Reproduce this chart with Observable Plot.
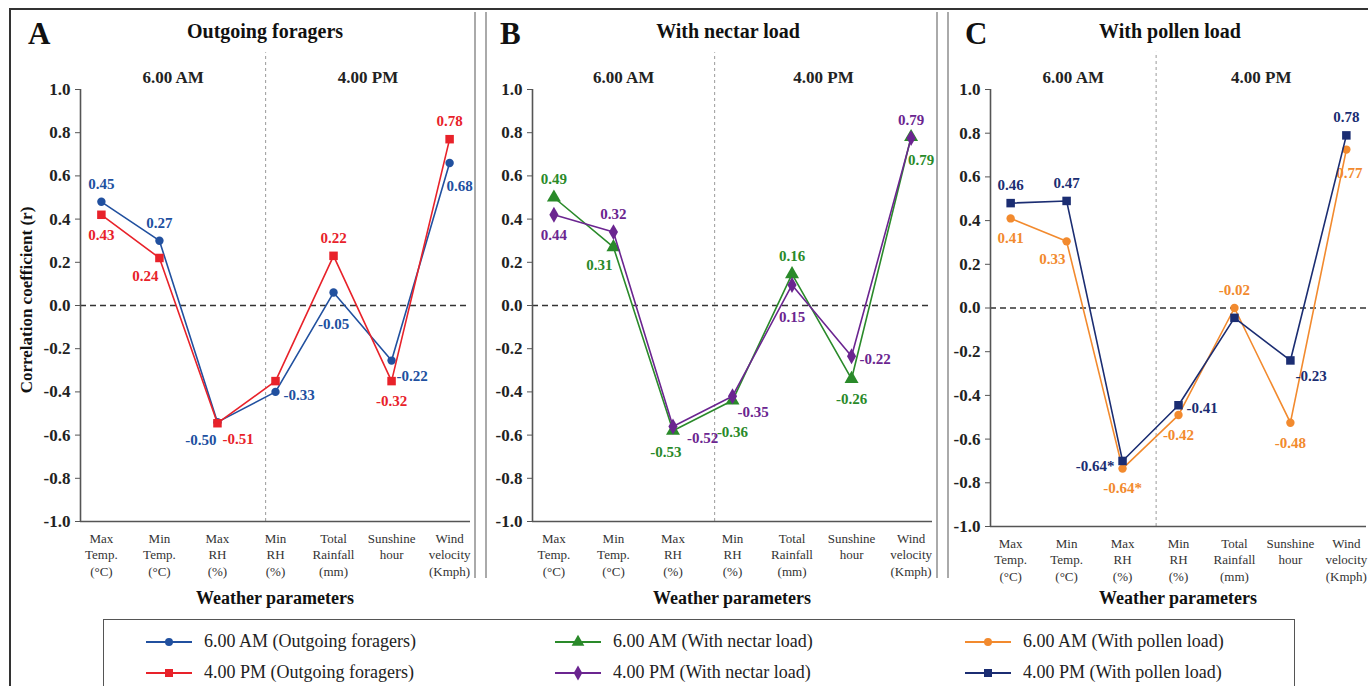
<!DOCTYPE html>
<html>
<head>
<meta charset="utf-8">
<script src="https://cdn.jsdelivr.net/npm/d3@7"></script>
<script src="https://cdn.jsdelivr.net/npm/@observablehq/plot@0.6"></script>
<style>
  html, body { margin: 0; padding: 0; background: #fff; }
  #root { position: relative; width: 1368px; height: 686px; overflow: hidden; background: #fff;
          font-family: "Liberation Serif", "DejaVu Serif", serif; color: #222; }
  .abs { position: absolute; white-space: nowrap; }
  .panel svg { overflow: visible; }
  .panel g[aria-label="y-axis tick label"] text { font-weight: bold; font-size: 17px; fill: #222; }
</style>
</head>
<body>
<div id="root"></div>
<script>
// ---------- data ----------
const categories = ["Max\nTemp.\n(°C)", "Min\nTemp.\n(°C)", "Max\nRH\n(%)", "Min\nRH\n(%)",
                    "Total\nRainfall\n(mm)", "Sunshine\nhour", "Wind\nvelocity\n(Kmph)"];
const yTicks = [1.0, 0.8, 0.6, 0.4, 0.2, 0, -0.2, -0.4, -0.6, -0.8, -1.0];
const panelLetters = ["A", "B", "C"];
const panelTitles = ["Outgoing foragers", "With nectar load", "With pollen load"];
const sessions = ["6.00 AM", "4.00 PM"];
const xTitle = "Weather parameters";
const yTitle = "Correlation coefficient (r)";

// Panel A – outgoing foragers
const outgoingAM = [0.48, 0.30, -0.54, -0.40, 0.06, -0.255, 0.66];
const outgoingAMLabels = ["0.45", "0.27", "-0.50", "-0.33", "-0.05", "-0.22", "0.68"];
const outgoingPM = [0.42, 0.22, -0.545, -0.35, 0.23, -0.35, 0.77];
const outgoingPMLabels = ["0.43", "0.24", "-0.51", null, "0.22", "-0.32", "0.78"];
// Panel B – with nectar load
const nectarAM = [0.50, 0.27, -0.58, -0.44, 0.145, -0.34, 0.78];
const nectarAMLabels = ["0.49", "0.31", "-0.53", "-0.36", "0.16", "-0.26", "0.79"];
const nectarPM = [0.42, 0.34, -0.56, -0.42, 0.095, -0.235, 0.775];
const nectarPMLabels = ["0.44", "0.32", "-0.52", "-0.35", "0.15", "-0.22", "0.79"];
// Panel C – with pollen load
const pollenAM = [0.41, 0.305, -0.735, -0.49, 0.0, -0.525, 0.725];
const pollenAMLabels = ["0.41", "0.33", "-0.64*", "-0.42", "-0.02", "-0.48", "0.77"];
const pollenPM = [0.48, 0.49, -0.70, -0.445, -0.045, -0.24, 0.79];
const pollenPMLabels = ["0.46", "0.47", "-0.64*", "-0.41", null, "-0.23", "0.78"];

const seriesNames = ["6.00 AM (Outgoing foragers)", "4.00 PM (Outgoing foragers)",
                     "6.00 AM (With nectar load)", "4.00 PM (With nectar load)",
                     "6.00 AM (With pollen load)", "4.00 PM (With pollen load)"];

// ---------- styling / layout (not data) ----------
const labelPlaceA_AM = ["t", "t", "bl", "r", "bb", "br", "bR"];
const labelPlaceA_PM = ["b", "bl", "br", null, "t", "b", "t"];
const labelPlaceB_AM = ["t", "bl", "bm", "bb", "t", "b", "bR"];
const labelPlaceB_PM = ["b", "t", "rb", "br", "bb", "r", "t"];
const labelPlaceC_AM = ["b", "bl", "b", "b", "t", "b", "bE"];
const labelPlaceC_PM = ["t", "t", "l", "r", null, "br", "t"];

const placeStyle = {
  t:  {dx: 0,  dy: -18, textAnchor: "middle"},
  b:  {dx: 0,  dy: 20,  textAnchor: "middle"},
  bm: {dx: -7, dy: 21,  textAnchor: "middle"},
  bb: {dx: 0,  dy: 32,  textAnchor: "middle"},
  r:  {dx: 8,  dy: 3,   textAnchor: "start"},
  rb: {dx: 14, dy: 12,  textAnchor: "start"},
  l:  {dx: -8, dy: 5,   textAnchor: "end"},
  br: {dx: 5,  dy: 16,  textAnchor: "start"},
  bR: {dx: -3, dy: 23,  textAnchor: "start"},
  bE: {dx: -10, dy: 24, textAnchor: "start"},
  bl: {dx: -1, dy: 18,  textAnchor: "end"}
};

const colors = {
  blue: "#21509f", red: "#e8222a", green: "#2a8a2a",
  purple: "#6b2590", orange: "#f28a2e", navy: "#1b2d72"
};

const panels = [
  {left: 12, width: 463, mL: 68, mR: 5, mB: 57, divider: 2.83,
   series: [
     {values: outgoingAM, labels: outgoingAMLabels, place: labelPlaceA_AM, color: colors.blue, symbol: "circle", r: 4.2},
     {values: outgoingPM, labels: outgoingPMLabels, place: labelPlaceA_PM, color: colors.red, symbol: "square", r: 4.8}
   ]},
  {left: 487, width: 450, mL: 45, mR: 5, mB: 57, divider: 2.7,
   series: [
     {values: nectarAM, labels: nectarAMLabels, place: labelPlaceB_AM, color: colors.green, symbol: "triangle", r: 5.2},
     {values: nectarPM, labels: nectarPMLabels, place: labelPlaceB_PM, color: colors.purple, symbol: "diamond", r: 4.8}
   ]},
  {left: 950, width: 418, mL: 40, mR: 2, mB: 52, divider: 2.6,
   series: [
     {values: pollenAM, labels: pollenAMLabels, place: labelPlaceC_AM, color: colors.orange, symbol: "circle", r: 4.2},
     {values: pollenPM, labels: pollenPMLabels, place: labelPlaceC_PM, color: colors.navy, symbol: "square", r: 4.8}
   ]}
];

const root = document.getElementById("root");
function addDiv(html, style, cls = "abs") {
  const d = document.createElement("div");
  d.className = cls;
  d.innerHTML = html;
  Object.assign(d.style, style);
  root.appendChild(d);
  return d;
}

// outer frame (top + left dark lines)
addDiv("", {left: "9px", top: "8px", width: "1370px", height: "2px", background: "#333"});
addDiv("", {left: "9px", top: "8px", width: "2px", height: "690px", background: "#333"});
// panel separators
[[474, 12, 566], [485, 12, 566], [936, 12, 566], [947, 12, 566]].forEach(([x, y, h]) =>
  addDiv("", {left: x + "px", top: y + "px", width: "2px", height: h + "px", background: "#aaa"}));

const pad = 0.36;
const xmin = -pad, xmax = categories.length - 1 + pad;
const topY = 12, svgH = 566, mT = 77;

panels.forEach((p, k) => {
  const idx = categories.map((c, i) => ({i, c}));
  const marks = [
    Plot.ruleY([0], {stroke: "#333", strokeWidth: 1.3, strokeDasharray: "6,4"}),
    Plot.ruleX([p.divider], {y1: -1, y2: 1.17, stroke: "#9a9a9a", strokeWidth: 1, strokeDasharray: "3,3"}),
    Plot.ruleY([-1], {stroke: "#555", strokeWidth: 1.6}),
    Plot.ruleX([xmin], {y1: -1, y2: 1, stroke: "#555", strokeWidth: 1.6}),
    Plot.axisY({ticks: yTicks, tickFormat: d => d.toFixed(1), tickSize: 5, tickPadding: 5,
                label: null, stroke: "#555", fontSize: 17, fontWeight: "bold"}),
    Plot.text(idx, {x: "i", text: "c", frameAnchor: "bottom", lineAnchor: "top", dy: 9,
                    lineHeight: 1.3, fontSize: 13, fill: "#333"}),
    Plot.text(
      [{x: (xmin + p.divider) / 2, t: sessions[0], y: 1.055}, {x: (p.divider + xmax) / 2, t: sessions[1], y: 1.055}],
      {x: "x", y: "y", text: "t", fontSize: 17, fontWeight: "bold", fill: "#222"})
  ];
  p.series.forEach(s => {
    const rows = s.values.map((v, i) => ({i, v, lab: s.labels[i], place: s.place[i]}));
    marks.push(Plot.line(rows, {x: "i", y: "v", stroke: s.color, strokeWidth: 1.6}));
    marks.push(Plot.dot(rows, {x: "i", y: "v", fill: s.color, stroke: "none", symbol: s.symbol, r: s.r}));
    Object.entries(placeStyle).forEach(([code, st]) => {
      const sub = rows.filter(r => r.place === code && r.lab);
      if (sub.length) marks.push(Plot.text(sub, {x: "i", y: "v", text: "lab", fill: s.color,
        fontSize: 15, fontWeight: "bold", dx: st.dx, dy: st.dy, textAnchor: st.textAnchor}));
    });
  });

  const chart = Plot.plot({
    width: p.width, height: svgH,
    marginLeft: p.mL, marginRight: p.mR, marginTop: mT, marginBottom: p.mB,
    x: {domain: [xmin, xmax], axis: null},
    y: {domain: [-1, 1]},
    style: {fontFamily: "'Liberation Serif', 'DejaVu Serif', serif", background: "transparent", overflow: "visible"},
    marks
  });
  const wrap = document.createElement("div");
  wrap.className = "abs panel";
  Object.assign(wrap.style, {left: p.left + "px", top: topY + "px"});
  wrap.appendChild(chart);
  root.appendChild(wrap);

  // titles
  const plotLeft = p.left + p.mL, plotRight = p.left + p.width - p.mR;
  const letterX = [28, 500, 965][k];
  addDiv(panelLetters[k], {left: letterX + "px", top: "16px", fontSize: "31px", fontWeight: "bold", color: "#111"});
  const centerTitle = [265, 728, 1170][k];
  addDiv(panelTitles[k], {left: centerTitle + "px", top: "20px", transform: "translateX(-50%)",
                          fontSize: "20px", fontWeight: "bold", color: "#111"});
  addDiv(xTitle, {left: (plotLeft + plotRight) / 2 + "px", top: "588px", transform: "translateX(-50%)",
                  fontSize: "18px", fontWeight: "bold", color: "#111"});
});

// y title (panel A only)
addDiv(yTitle, {left: "27px", top: "300px", transform: "translate(-50%,-50%) rotate(-90deg)",
                fontSize: "17px", fontWeight: "bold", color: "#111"});

// legend
addDiv("", {left: "103px", top: "619px", width: "1192px", height: "80px",
            border: "1.5px solid #555", boxSizing: "border-box"});
const legendSeries = [
  {color: colors.blue, symbol: d3.symbolCircle, size: 50},
  {color: colors.red, symbol: d3.symbolSquare, size: 64},
  {color: colors.green, symbol: d3.symbolTriangle, size: 70},
  {color: colors.purple, symbol: d3.symbolDiamond, size: 64},
  {color: colors.orange, symbol: d3.symbolCircle, size: 50},
  {color: colors.navy, symbol: d3.symbolSquare, size: 64}
];
const legCols = [146, 555, 965], legRows = [642, 673];
legendSeries.forEach((s, j) => {
  const col = Math.floor(j / 2), row = j % 2;
  const x0 = legCols[col], y0 = legRows[row];
  const svg = d3.create("svg").attr("width", 48).attr("height", 16)
    .style("position", "absolute").style("left", x0 + "px").style("top", (y0 - 8) + "px");
  svg.append("line").attr("x1", 0).attr("x2", 46).attr("y1", 8).attr("y2", 8)
    .attr("stroke", s.color).attr("stroke-width", 1.8);
  svg.append("path").attr("d", d3.symbol(s.symbol, s.size)()).attr("transform", "translate(23,8)")
    .attr("fill", s.color);
  root.appendChild(svg.node());
  addDiv(seriesNames[j], {left: (x0 + 58) + "px", top: (y0 - 11) + "px", fontSize: "18px", color: "#222"});
});
</script>
</body>
</html>
